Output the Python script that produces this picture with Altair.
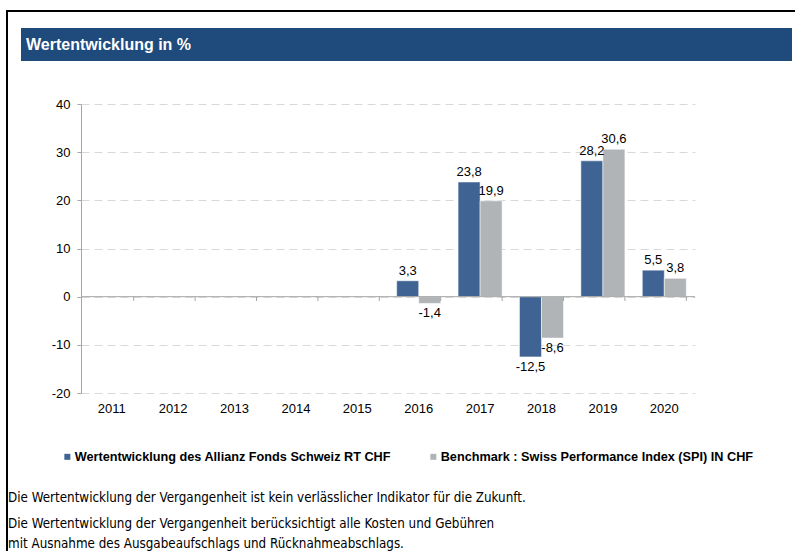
import altair as alt
import pandas as pd

years = ["2011", "2012", "2013", "2014", "2015", "2016", "2017", "2018", "2019", "2020"]
fund_name = "Wertentwicklung des Allianz Fonds Schweiz RT CHF"
bench_name = "Benchmark : Swiss Performance Index (SPI) IN CHF"
fund_values = [None, None, None, None, None, 3.3, 23.8, -12.5, 28.2, 5.5]
bench_values = [None, None, None, None, None, -1.4, 19.9, -8.6, 30.6, 3.8]
y_ticks = [-20, -10, 0, 10, 20, 30, 40]
title_text = "Wertentwicklung in %"
note1 = "Die Wertentwicklung der Vergangenheit ist kein verlässlicher Indikator für die Zukunft."
note2 = ["Die Wertentwicklung der Vergangenheit berücksichtigt alle Kosten und Gebühren",
         "mit Ausnahme des Ausgabeaufschlags und Rücknahmeabschlags."]

rows = []
for y, f, b in zip(years, fund_values, bench_values):
    for name, v in ((fund_name, f), (bench_name, b)):
        if v is not None:
            rows.append({"year": y, "series": name, "value": v,
                         "label": f"{v:.1f}".replace(".", ",")})
df = pd.DataFrame(rows)
years_df = pd.DataFrame({"year": years})

FONT = "Liberation Sans"
W, H = 614, 289

x_scale = alt.Scale(domain=years, paddingInner=0.283, paddingOuter=0.1415)
y_scale = alt.Scale(domain=[-20, 40], nice=False, zero=False)
color_scale = alt.Scale(domain=[fund_name, bench_name], range=["#3F6494", "#B1B4B7"])

base = alt.Chart(df)

bars = base.mark_bar(stroke="white", strokeWidth=0.5).encode(
    x=alt.X("year:N", scale=x_scale, sort=years,
            axis=alt.Axis(title=None, domain=False, ticks=False, labelAngle=0,
                          labelPadding=9, labelFont=FONT, labelFontSize=13,
                          labelColor="#000000")),
    xOffset=alt.XOffset("series:N", sort=[fund_name, bench_name],
                        scale=alt.Scale(paddingInner=0, paddingOuter=0)),
    y=alt.Y("value:Q", scale=y_scale,
            axis=alt.Axis(title=None, values=y_ticks, grid=True, gridDash=[8, 5],
                          gridColor="#D9D9D9", domainColor="#A6A6A6",
                          tickColor="#A6A6A6", tickSize=4, labelPadding=7,
                          labelExpr="datum.value + ''",
                          labelFont=FONT, labelFontSize=13, labelColor="#000000")),
    color=alt.Color("series:N", scale=color_scale, sort=[fund_name, bench_name],
                    legend=alt.Legend(title=None, orient="none", legendX=-20, legendY=346,
                                      direction="horizontal", symbolType="square",
                                      symbolSize=36, symbolStrokeWidth=0, padding=0,
                                      labelFont=FONT, labelFontSize=12.7,
                                      labelFontWeight="bold", labelColor="#000000",
                                      labelLimit=500, labelOffset=1, columnPadding=36)),
)

pos_labels = base.transform_filter("datum.value >= 0").mark_text(
    baseline="bottom", dy=-3, font=FONT, fontSize=13, color="#000000").encode(
    x=alt.X("year:N", scale=x_scale, sort=years),
    xOffset=alt.XOffset("series:N", sort=[fund_name, bench_name]),
    y=alt.Y("value:Q", scale=y_scale),
    text="label:N",
)
neg_labels = base.transform_filter("datum.value < 0").mark_text(
    baseline="top", dy=4, font=FONT, fontSize=13, color="#000000").encode(
    x=alt.X("year:N", scale=x_scale, sort=years),
    xOffset=alt.XOffset("series:N", sort=[fund_name, bench_name]),
    y=alt.Y("value:Q", scale=y_scale),
    text="label:N",
)

zero_line = alt.Chart(pd.DataFrame({"v": [0]})).mark_rule(color="#A6A6A6", strokeWidth=1).encode(
    y=alt.Y("v:Q", scale=y_scale),
)
cat_ticks = alt.Chart(years_df).mark_rule(color="#A6A6A6", strokeWidth=1).encode(
    x=alt.X("year:N", scale=x_scale, sort=years, bandPosition=1),
    y=alt.datum(0),
    y2=alt.value(197),
)

one = pd.DataFrame({"t": [title_text]})
frame = alt.Chart(one).mark_rect(filled=False, stroke="#000000", strokeWidth=2,
                                 fill="transparent").encode(
    x=alt.value(-74), x2=alt.value(800), y=alt.value(-93), y2=alt.value(520))
header = alt.Chart(one).mark_rect(color="#1F4A7C").encode(
    x=alt.value(-60), x2=alt.value(711), y=alt.value(-76), y2=alt.value(-43))
title = alt.Chart(one).mark_text(align="left", baseline="middle", font=FONT, fontSize=16,
                                 fontWeight="bold", color="#FFFFFF").encode(
    x=alt.value(-55), y=alt.value(-59), text="t:N")

NOTE_FONT = "'DejaVu Sans Condensed', Roboto, sans-serif"
n1 = alt.Chart(pd.DataFrame({"t": [note1]})).mark_text(
    align="left", baseline="alphabetic", font=NOTE_FONT, fontSize=13.3, color="#000000").encode(
    x=alt.value(-73), y=alt.value(398), text="t:N")
n2 = alt.Chart(pd.DataFrame({"t": [0]})).mark_text(
    align="left", baseline="alphabetic", font=NOTE_FONT, fontSize=13.3, color="#000000",
    lineHeight=20, text=note2).encode(
    x=alt.value(-73), y=alt.value(424))

chart = alt.layer(
    frame, header, title,
    bars, zero_line, cat_ticks, pos_labels, neg_labels, n1, n2
).properties(
    width=W, height=H,
    background="white",
    autosize=alt.AutoSizeParams(type="none"),
    padding={"left": 81, "top": 104, "right": 100, "bottom": 158},
).configure_view(stroke="transparent", strokeWidth=0)

chart.save("out.html", embed_options={"renderer": "svg", "actions": False})
